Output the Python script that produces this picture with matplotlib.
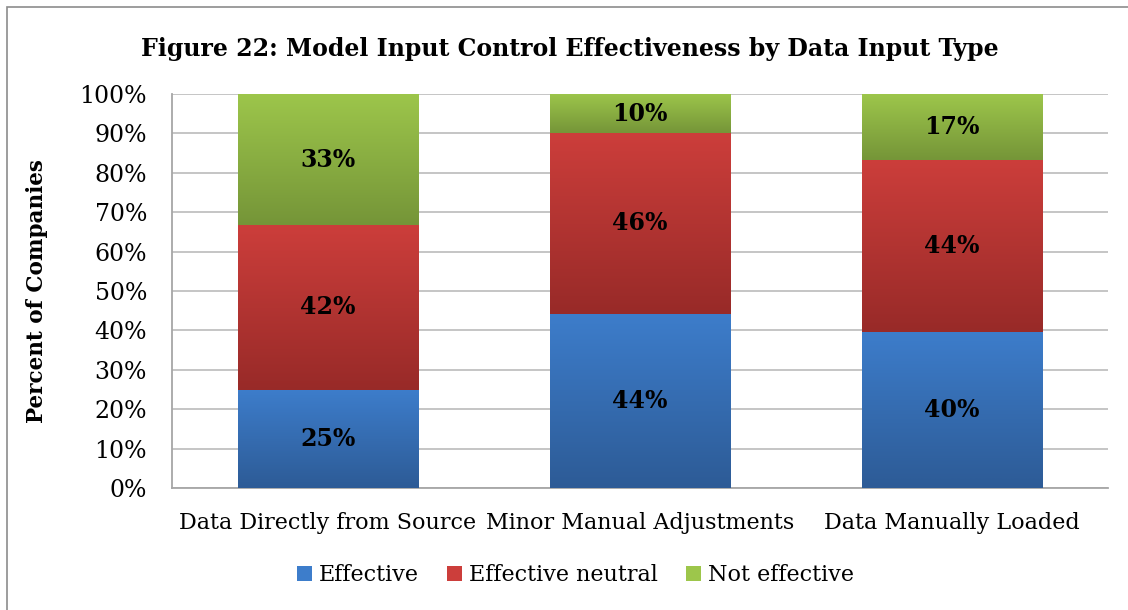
import matplotlib.pyplot as plt
import numpy as np
from matplotlib.colors import LinearSegmentedColormap
from matplotlib.patches import Rectangle, Patch

categories = ['Data Directly from Source', 'Minor Manual Adjustments', 'Data Manually Loaded']
effective = [25.0, 44.2, 39.6]
neutral = [41.7, 45.9, 43.7]
not_effective = [33.3, 9.9, 16.7]
series_names = ['Effective', 'Effective neutral', 'Not effective']
y_ticks = [0, 10, 20, 30, 40, 50, 60, 70, 80, 90, 100]

# top / bottom colours of each gradient
grads = [('#3d7dcb', '#2d5b96'), ('#cc3e3b', '#982a28'), ('#9dc64b', '#759538')]

plt.rcParams['font.family'] = ['DejaVu Serif']

fig = plt.figure(figsize=(11.28, 6.1), dpi=100)
ax = fig.add_axes([0.1525, 0.2, 0.83, 0.6459])

# chart frame (only left/top visible in the crop)
fig.patches.append(Rectangle((7 / 1128, -0.1), 1.2, 1.1 - 7 / 610, transform=fig.transFigure,
                             fill=False, edgecolor='#8c8c8c', linewidth=1.2))

x = np.arange(len(categories))
width = 0.577
bottom = np.zeros(len(categories))
for vals, (ctop, cbot) in zip([effective, neutral, not_effective], grads):
    bars = ax.bar(x, vals, width, bottom=bottom, color=cbot, zorder=2, linewidth=0)
    cmap = LinearSegmentedColormap.from_list('g', [cbot, ctop])
    for b, v in zip(bars, vals):
        x0, y0 = b.get_x(), b.get_y()
        w, h = b.get_width(), b.get_height()
        grad = np.linspace(0, 1, 256).reshape(-1, 1)
        im = ax.imshow(grad, cmap=cmap, aspect='auto', origin='lower',
                       extent=[x0, x0 + w, y0, y0 + h], zorder=3)
        im.set_clip_path(b)
        ax.text(x0 + w / 2, y0 + h / 2, f'{v:.0f}%', ha='center', va='center',
                fontsize=17, fontweight='bold', zorder=5)
    bottom += np.array(vals)

ax.set_xlim(-0.5, 2.5)
ax.set_ylim(0, 100)
ax.set_yticks(y_ticks)
ax.set_yticklabels([f'{t}%' for t in y_ticks], fontsize=17)
ax.set_xticks(x)
ax.set_xticklabels(categories, fontsize=16)
ax.tick_params(axis='both', length=0)
ax.tick_params(axis='y', pad=18)
ax.tick_params(axis='x', pad=17)
ax.grid(axis='y', color='#c0c0c0', linewidth=1.3, zorder=0)
ax.set_axisbelow(True)
for s in ['top', 'right']:
    ax.spines[s].set_visible(False)
for s in ['left', 'bottom']:
    ax.spines[s].set_color('#a6a6a6')
    ax.spines[s].set_linewidth(1.3)

ax.set_ylabel('Percent of Companies', fontsize=15.5, fontweight='bold')
ax.yaxis.set_label_coords(-0.133, 0.5)

fig.text(0.505, 0.92, 'Figure 22: Model Input Control Effectiveness by Data Input Type',
         ha='center', va='center', fontsize=17, fontweight='bold')

handles = [Patch(facecolor=c[0], edgecolor='none') for c in grads]
fig.legend(handles, series_names, loc='center', bbox_to_anchor=(0.51, 0.057), ncol=3,
           frameon=False, fontsize=16, handlelength=0.7, handleheight=0.7,
           handletextpad=0.3, columnspacing=1.25)

fig.savefig('out.png', dpi=100)
